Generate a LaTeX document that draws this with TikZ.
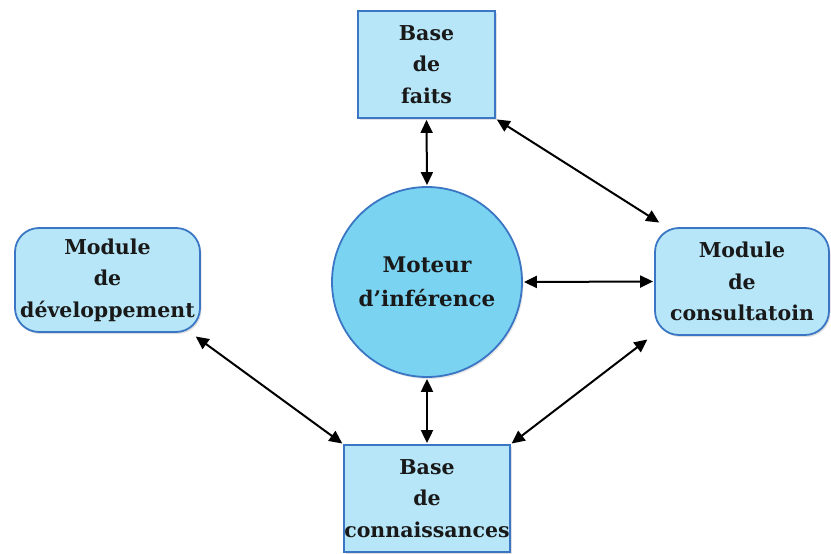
\documentclass[tikz,border=0pt]{standalone}
\usepackage{fontspec}
\setmainfont{DejaVu Serif}
\usetikzlibrary{arrows.meta, positioning, shadows}

\definecolor{boxfill}{RGB}{182,230,248}
\definecolor{motorfill}{RGB}{122,211,241}
\definecolor{boxline}{RGB}{58,118,196}

\begin{document}
\begin{tikzpicture}[x=1pt, y=-1pt,
    every node/.style={font=\bfseries\fontsize{20.5}{31.5}\selectfont, align=center, text=black!90},
    basebox/.style={draw=boxline, line width=1.8pt, fill=boxfill, inner sep=0pt,
      drop shadow={opacity=0.25, shadow xshift=1.5pt, shadow yshift=-2pt}},
    modbox/.style={basebox, rounded corners=24pt},
    link/.style={line width=2pt, {Triangle[length=13pt,width=12pt]}-{Triangle[length=13pt,width=12pt]}, shorten <=1pt, shorten >=1pt}]
  \useasboundingbox (0,0) rectangle (831,554);
  % Bases
  \node[basebox, minimum width=137pt, minimum height=107pt] (faits) at (426.5,64.5) {Base\\de\\faits};
  \node[basebox, minimum width=166pt, minimum height=107pt] (conn) at (427,498.5) {Base\\de\\connaissances};
  % Moteur
  \node[circle, draw=boxline, line width=1.8pt, fill=motorfill, minimum size=190pt, inner sep=0pt,
    font=\bfseries\fontsize{21.5}{34}\selectfont,
    drop shadow={opacity=0.2, shadow xshift=1.5pt, shadow yshift=-2pt}] (moteur) at (427,282) {Moteur\\d’inférence};
  % Modules
  \node[modbox, minimum width=185pt, minimum height=104pt] (dev) at (107.5,280) {Module\\de\\développement};
  \node[modbox, minimum width=174pt, minimum height=107pt] (cons) at (742,281.5) {Module\\de\\consultatoin};
  % Liens
  \draw[link] (faits.south) -- (moteur.north);
  \draw[link] (moteur.south) -- (conn.north);
  \draw[link] (moteur.east) -- (cons.west);
  \draw[link] (faits.south east) -- ([xshift=6pt,yshift=4pt]cons.north west);
  \draw[link] ([xshift=-6pt,yshift=-3pt]cons.south west) -- (conn.north east);
  \draw[link] ([xshift=-6pt,yshift=-3pt]dev.south east) -- (conn.north west);
\end{tikzpicture}
\end{document}
